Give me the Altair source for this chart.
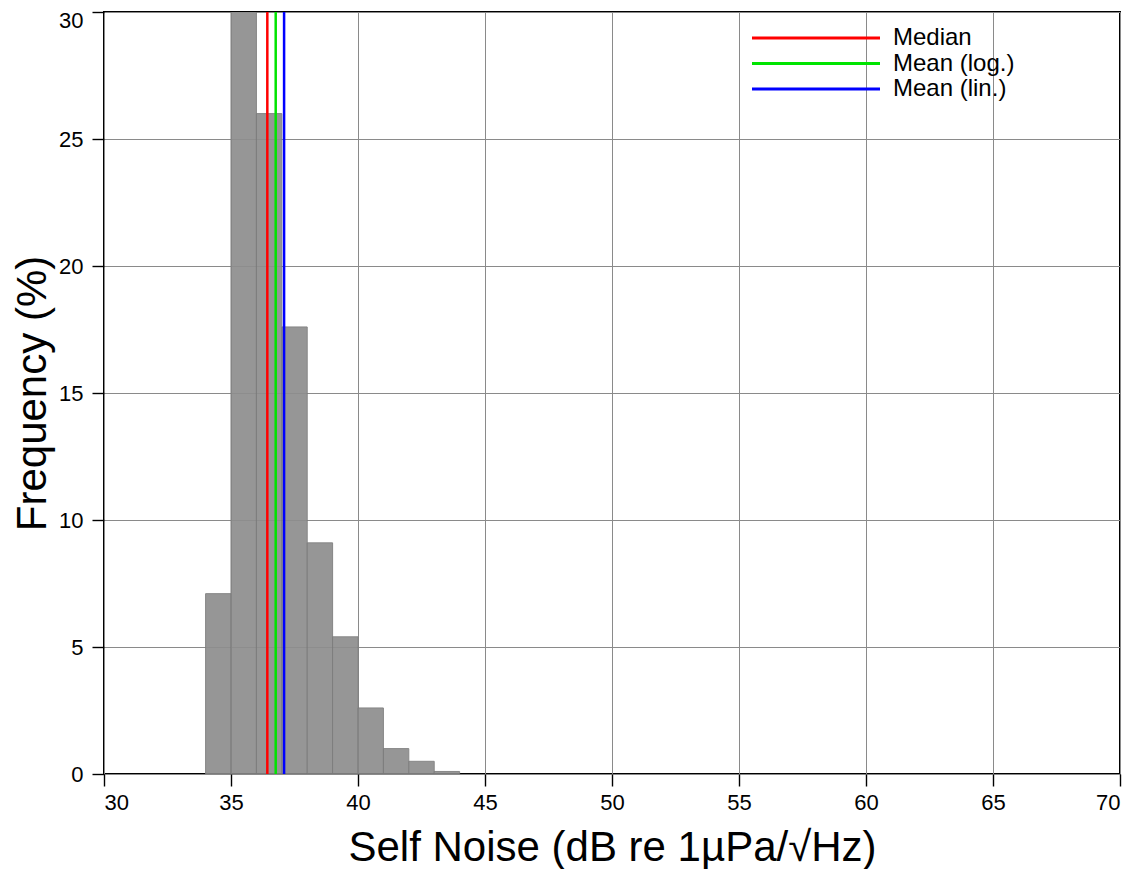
import altair as alt
import pandas as pd

# Histogram bins (1 dB wide) and frequencies (%)
bin_start = [34, 35, 36, 37, 38, 39, 40, 41, 42, 43]
bin_end = [35, 36, 37, 38, 39, 40, 41, 42, 43, 44]
freq = [7.1, 30.6, 26.0, 17.6, 9.1, 5.4, 2.6, 1.0, 0.5, 0.1]

stat_names = ["Median", "Mean (log.)", "Mean (lin.)"]
stat_values = [36.43, 36.76, 37.09]
stat_colors = ["#ff0000", "#00e400", "#0000ff"]

x_ticks = [30, 35, 40, 45, 50, 55, 60, 65, 70]
y_ticks = [0, 5, 10, 15, 20, 25, 30]

FONT = "Liberation Sans"

hist = pd.DataFrame({"start": bin_start, "end": bin_end, "freq": freq})
stats = pd.DataFrame({"stat": stat_names, "value": stat_values})

xscale = alt.Scale(domain=[30, 70], nice=False, zero=False)
yscale = alt.Scale(domain=[0, 30], nice=False)

xaxis = alt.Axis(values=x_ticks, title="Self Noise (dB re 1\u00b5Pa/\u221aHz)")
yaxis = alt.Axis(
    values=y_ticks,
    title="Frequency (%)",
    labelOffset={"condition": {"test": "datum.value == 30", "value": 8}, "value": 0},
)

bars = alt.Chart(hist).mark_bar(
    color="#8e8e8e", stroke="#7c7c7c", strokeWidth=1, opacity=0.92, clip=True
).encode(
    x=alt.X("start:Q", scale=xscale, axis=xaxis),
    x2="end:Q",
    y=alt.Y("freq:Q", scale=yscale, axis=yaxis),
    y2=alt.datum(0),
)

rules = alt.Chart(stats).mark_rule(strokeWidth=2.5).encode(
    x=alt.X("value:Q", scale=xscale),
    color=alt.Color(
        "stat:N",
        scale=alt.Scale(domain=stat_names, range=stat_colors),
        sort=stat_names,
        legend=alt.Legend(
            title=None,
            orient="none",
            legendX=700,
            legendY=14,
            padding=0,
            symbolType="M-8,0H8",
            symbolSize=256,
            symbolStrokeWidth=3,
            labelFont=FONT,
            labelFontSize=24,
            labelColor="black",
            labelOffset=65,
            rowPadding=1.5,
        ),
    ),
)

chart = alt.layer(bars, rules).properties(
    width=1016,
    height=762,
    autosize=alt.AutoSizeParams(type="none"),
    padding={"left": 96, "top": 4, "right": 3, "bottom": 95},
).configure_view(
    stroke="black", strokeWidth=2
).configure_axis(
    domain=False,
    grid=True,
    gridColor="#8a8a8a",
    gridWidth=1,
    ticks=True,
    tickColor="black",
    tickSize=12,
    tickWidth=1.4,
    labelFont=FONT,
    labelFontSize=22,
    labelColor="black",
    titleFont=FONT,
    titleFontSize=42,
    titleFontWeight="normal",
    titleColor="black",
).configure_axisX(
    labelPadding=6,
    titlePadding=14,
).configure_axisY(
    labelPadding=9,
    titlePadding=4,
)

chart.save("out.html", embed_options={"renderer": "svg", "actions": False})
